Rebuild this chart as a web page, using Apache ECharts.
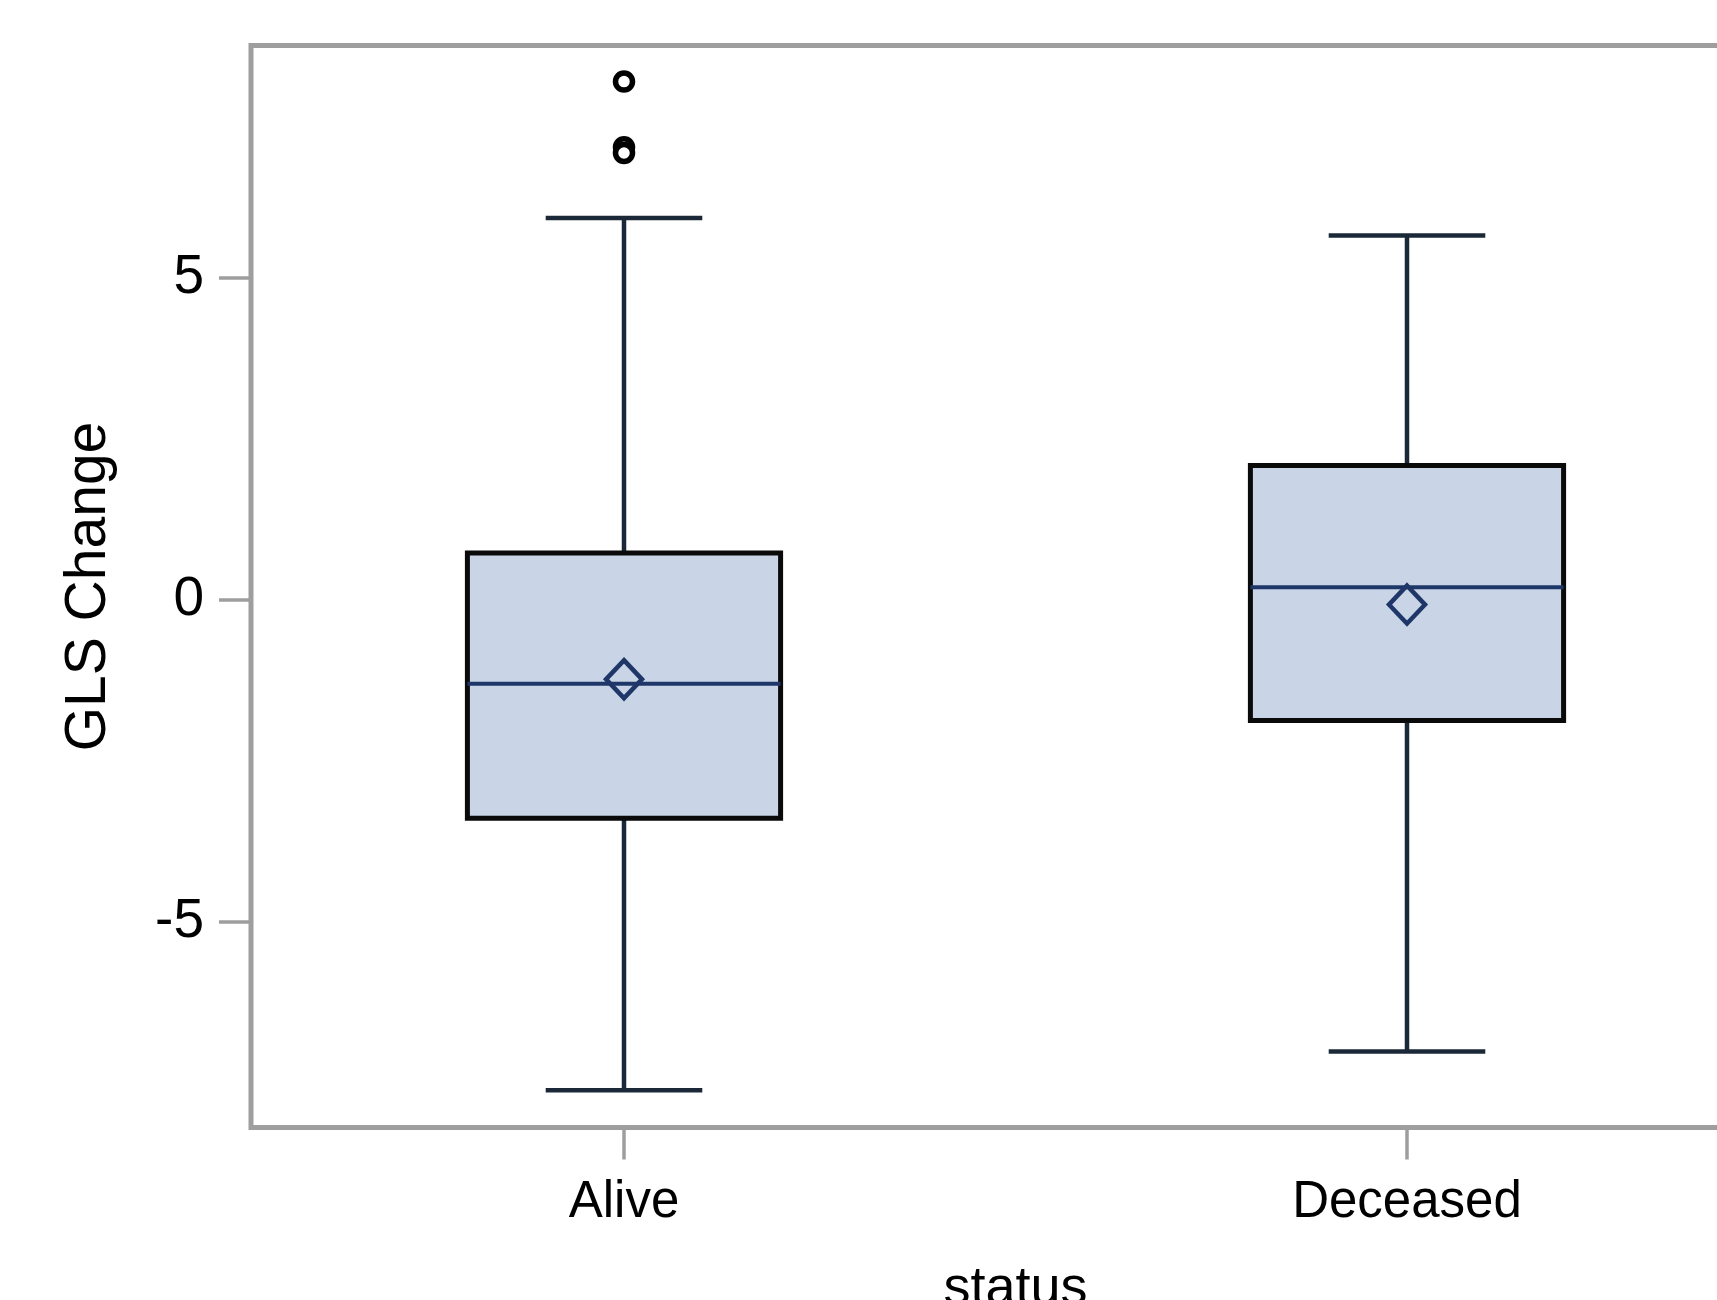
<!DOCTYPE html>
<html>
<head>
<meta charset="utf-8">
<script src="https://cdn.jsdelivr.net/npm/echarts@6/dist/echarts.min.js"></script>
<style>
  html, body { margin: 0; padding: 0; background: #fff; }
  #chart { width: 1717px; height: 1300px; }
</style>
</head>
<body>
<div id="chart"></div>
<script>
// ---- data ----
const categories = ['Alive', 'Deceased'];
const whiskerLow  = [-7.61, -7.01];
const q1Values    = [-3.39, -1.87];
const medians     = [-1.30, 0.20];
const q3Values    = [0.73, 2.09];
const whiskerHigh = [5.93, 5.66];
const means       = [-1.23, -0.07];
const outlierCats = ['Alive', 'Alive', 'Alive'];
const outlierVals = [8.05, 7.03, 6.94];
const yTickValues = [-5, 0, 5];
const yMin = -8.19;
const yMax = 8.61;

const boxData = categories.map((c, i) =>
  [i, whiskerLow[i], q1Values[i], medians[i], q3Values[i], whiskerHigh[i]]);
const meanData = categories.map((c, i) => [c, means[i]]);
const outlierData = outlierCats.map((c, i) => [c, outlierVals[i]]);
const categoryTickPositions = categories.map((c, i) => i);

const FONT = '"Liberation Sans", Arial, sans-serif';
const AXIS_GRAY = '#9e9e9e';

const chart = echarts.init(document.getElementById('chart'), null, { renderer: 'canvas' });

function renderBox(params, api) {
  const idx = api.value(0);
  const pLo  = api.coord([idx, api.value(1)]);
  const pQ1  = api.coord([idx, api.value(2)]);
  const pMed = api.coord([idx, api.value(3)]);
  const pQ3  = api.coord([idx, api.value(4)]);
  const pHi  = api.coord([idx, api.value(5)]);
  const band = api.size([1, 0])[0];
  const bw = band * 0.4;
  const cw = band * 0.2;
  const x = pMed[0];
  const whiskerStyle = { stroke: '#1b2838', lineWidth: 4.5, fill: null };
  return {
    type: 'group',
    children: [
      { type: 'line', shape: { x1: x, y1: pHi[1], x2: x, y2: pQ3[1] }, style: whiskerStyle },
      { type: 'line', shape: { x1: x, y1: pQ1[1], x2: x, y2: pLo[1] }, style: whiskerStyle },
      { type: 'line', shape: { x1: x - cw / 2, y1: pHi[1], x2: x + cw / 2, y2: pHi[1] }, style: whiskerStyle },
      { type: 'line', shape: { x1: x - cw / 2, y1: pLo[1], x2: x + cw / 2, y2: pLo[1] }, style: whiskerStyle },
      { type: 'rect', shape: { x: x - bw / 2, y: pQ3[1], width: bw, height: pQ1[1] - pQ3[1] },
        style: { fill: '#c9d4e6', stroke: '#0a0a0a', lineWidth: 5 } },
      { type: 'line', shape: { x1: x - bw / 2, y1: pMed[1], x2: x + bw / 2, y2: pMed[1] },
        style: { stroke: '#1e3768', lineWidth: 4 } }
    ]
  };
}

const option = {
  animation: false,
  backgroundColor: '#ffffff',
  grid: [
    { left: 232.5, top: 45.5, right: -81.5, bottom: 172.5, show: false,
      containLabel: false, outerBoundsMode: 'none' },
    { left: 251, top: 45.5, right: -100, bottom: 172.5, show: true,
      containLabel: false, outerBoundsMode: 'none',
      borderColor: AXIS_GRAY, borderWidth: 5, backgroundColor: 'transparent' }
  ],
  xAxis: [
    {
      gridIndex: 0,
      type: 'category',
      data: categories,
      boundaryGap: true,
      position: 'bottom',
      axisLine: { show: false, onZero: false },
      axisTick: { show: false },
      axisLabel: { fontFamily: FONT, fontSize: 51, color: '#000', margin: 50, interval: 0 },
      splitLine: { show: false },
      name: 'status',
      nameLocation: 'middle',
      nameGap: 135,
      nameTextStyle: { fontFamily: FONT, fontSize: 54, color: '#000' }
    },
    { gridIndex: 1, type: 'value', show: false },
    {
      // tick marks at category centres (same band layout as the category axis)
      gridIndex: 0,
      type: 'value',
      position: 'bottom',
      min: -0.5,
      max: categories.length - 0.5,
      axisLine: { show: false, onZero: false },
      axisTick: { show: true, length: 32, customValues: categoryTickPositions,
        lineStyle: { color: AXIS_GRAY, width: 3.5 } },
      axisLabel: { show: false },
      splitLine: { show: false }
    }
  ],
  yAxis: [
    {
      gridIndex: 0,
      type: 'value',
      position: 'left',
      min: yMin,
      max: yMax,
      offset: -18.5,
      axisLine: { show: false, onZero: false },
      axisTick: { show: true, length: 32, customValues: yTickValues,
        lineStyle: { color: AXIS_GRAY, width: 3.5 } },
      axisLabel: { fontFamily: FONT, fontSize: 55, color: '#000', margin: 47,
        customValues: yTickValues },
      splitLine: { show: false },
      name: 'GLS Change',
      nameLocation: 'middle',
      nameGap: 133,
      nameTextStyle: { fontFamily: FONT, fontSize: 57, color: '#000' }
    },
    { gridIndex: 1, type: 'value', show: false }
  ],
  series: [
    {
      type: 'custom',
      xAxisIndex: 0,
      yAxisIndex: 0,
      renderItem: renderBox,
      data: boxData,
      z: 2
    },
    {
      type: 'scatter',
      xAxisIndex: 0,
      yAxisIndex: 0,
      data: meanData,
      symbol: 'diamond',
      symbolSize: [36, 38],
      itemStyle: { color: 'rgba(0,0,0,0)', borderColor: '#1e3768', borderWidth: 4.5, opacity: 1 },
      z: 5
    },
    {
      type: 'scatter',
      xAxisIndex: 0,
      yAxisIndex: 0,
      data: outlierData,
      symbol: 'circle',
      symbolSize: 17,
      itemStyle: { color: '#ffffff', borderColor: '#000000', borderWidth: 5.5, opacity: 1 },
      z: 5
    }
  ]
};

chart.setOption(option);
</script>
</body>
</html>
